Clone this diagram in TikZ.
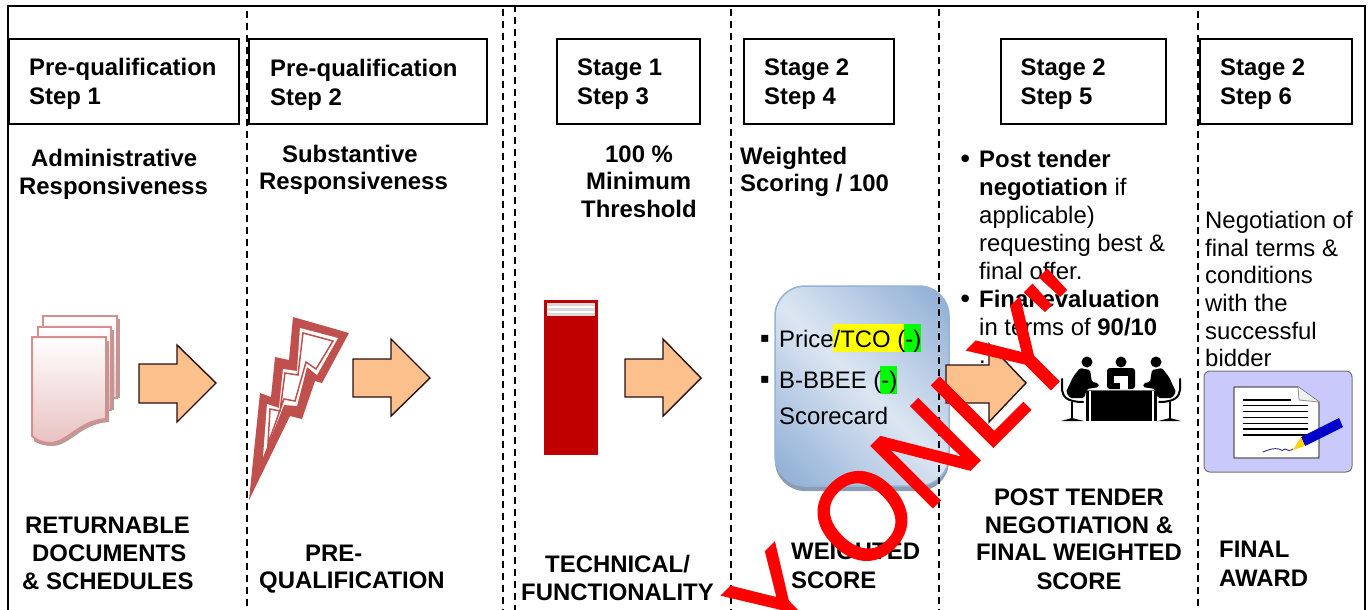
\documentclass[tikz,border=0pt]{standalone}
\usepackage{fontspec}
\setmainfont{Liberation Sans}
\newfontfamily\symfont{DejaVu Sans}
\newfontfamily\wmfont[FakeBold=1.4,FakeStretch=0.94]{Liberation Sans}
\usetikzlibrary{calc}
\definecolor{arrowfill}{HTML}{FBC08C}
\definecolor{arrowline}{HTML}{2B1010}
\definecolor{boltred}{HTML}{C0504D}
\definecolor{pageline}{HTML}{D68F8F}
\definecolor{pageshadow}{HTML}{B89A9A}
\definecolor{bookred}{HTML}{C00000}
\definecolor{boxlight}{HTML}{DCE6F2}
\definecolor{boxdark}{HTML}{95B3D7}
\definecolor{boxshadow}{HTML}{8C9DB3}
\definecolor{signbg}{HTML}{C9C9FB}
\definecolor{hgreen}{HTML}{00FF00}
\definecolor{hyellow}{HTML}{FFFF00}
\tikzset{
  x=1pt,y=-1pt,
  txt/.style={anchor=base west,inner sep=0pt,font=\fontsize{23.9}{28}\selectfont},
  btxt/.style={txt,font=\fontsize{23.9}{28}\selectfont\bfseries},
  ctr/.style={btxt,anchor=base},
  stagebox/.style={draw=black,line width=1.6pt,fill=white,inner sep=0pt,anchor=north west},
  divider/.style={draw=black,line width=1.5pt,dash pattern=on 7pt off 5pt},
  blockarrow/.style={draw=arrowline,fill=arrowfill,line width=1.4pt,line join=miter},
  sheet/.style={draw=pageline,line width=2pt,top color=white,bottom color=pageline!55},
  sheetshadow/.style={fill=pageshadow},
  bulletmark/.style={anchor=base west,inner sep=0pt,font=\fontsize{14}{14}\selectfont\symfont},
  roundbullet/.style={anchor=base west,inner sep=0pt,font=\fontsize{26}{28}\selectfont\symfont},
  wmark/.style={anchor=base west,inner sep=0pt,rotate=45,text=red,font=\fontsize{126}{126}\selectfont\wmfont},
}
\begin{document}
\begin{tikzpicture}
\useasboundingbox (0,0) rectangle (1370,610);
\clip (0,0) rectangle (1370,610);
\fill[white] (0,0) rectangle (1370,610);
% frame
\draw[black,line width=1.8pt] (8,620) -- (8,6) -- (1365,6) -- (1365,620);
% rounded box (under dashed divider)
\fill[boxshadow,rounded corners=30pt] (775,292) rectangle (949,491);
\begin{scope}
\clip[rounded corners=30pt] (775,286) rectangle (949,486);
\fill[boxdark] (775,286) rectangle (949,486);
\begin{scope}[transform canvas={rotate around={-45:(862,386)}}]
\shade[bottom color=boxdark,top color=boxdark,middle color=boxlight] (722,271) rectangle (1002,501);
\end{scope}
\end{scope}
\draw[boxdark,line width=1.5pt,rounded corners=30pt] (775,286) rectangle (949,486);
% dividers
\foreach \x/\t in {247/11,503/9,515/5,731/9,939/9,1198/11}{\draw[divider] (\x,\t) -- (\x,612);}
% header boxes
\node[stagebox,minimum width=230pt,minimum height=85pt] (b1) at (8,38) {};
\node[stagebox,minimum width=238pt,minimum height=85pt] (b2) at (248,38) {};
\node[stagebox,minimum width=143pt,minimum height=85pt] (b3) at (556,38) {};
\node[stagebox,minimum width=150pt,minimum height=85pt] (b4) at (743,38) {};
\node[stagebox,minimum width=165pt,minimum height=85pt] (b5) at (1000,38) {};
\node[stagebox,minimum width=152pt,minimum height=85pt] (b6) at (1199,38) {};
% header text
\node[btxt] (h1a) at (29,75) {Pre-qualification};
\node[btxt] (h1b) at (29,104) {Step 1};
\node[btxt] (h2a) at (270,76) {Pre-qualification};
\node[btxt] (h2b) at (270,105) {Step 2};
\node[btxt] (h3a) at (577,75) {Stage 1};
\node[btxt] (h3b) at (577,104) {Step 3};
\node[btxt] (h4a) at (764,75) {Stage 2};
\node[btxt] (h4b) at (764,104) {Step 4};
\node[btxt] (h5a) at (1020.5,75) {Stage 2};
\node[btxt] (h5b) at (1020.5,104) {Step 5};
\node[btxt] (h6a) at (1220,75) {Stage 2};
\node[btxt] (h6b) at (1220,104) {Step 6};
% sub headings
\node[btxt] (s1a) at (31,166) {Administrative};
\node[btxt] (s1b) at (19,194) {Responsiveness};
\node[btxt] (s2a) at (282,162) {Substantive};
\node[btxt] (s2b) at (259,189) {Responsiveness};
\node[btxt] (s3a) at (605,162) {100 \%};
\node[btxt] (s3b) at (586,189) {Minimum};
\node[btxt] (s3c) at (581,217) {Threshold};
\node[btxt] (s4a) at (740,164) {Weighted};
\node[btxt] (s4b) at (740,191) {Scoring / 100};
% step 5 list
\node[roundbullet] (l0) at (957.5,168) {•};
\node[btxt] (l1) at (979,167) {Post tender};
\node[txt] (l2) at (979,195) {\textbf{negotiation} if};
\node[txt] (l3) at (979,223) {applicable)};
\node[txt] (l4) at (979,251) {requesting best \&};
\node[txt] (l5) at (979,279) {final offer.};
\node[roundbullet] (l6) at (957.5,308) {•};
\node[btxt] (l7) at (979,307) {Final evaluation};
\node[txt] (l8) at (979,335) {in terms of \textbf{90/10}};
\node[txt] (l9) at (979,363) {.};
% step 6 text
\node[txt] (n1) at (1205,228) {Negotiation of};
\node[txt] (n2) at (1205,256) {final terms \&};
\node[txt] (n3) at (1205,283) {conditions};
\node[txt] (n4) at (1205,311) {with the};
\node[txt] (n5) at (1205,339) {successful};
\node[txt] (n6) at (1205,366) {bidder};
% bottom labels
\node[btxt] (r1) at (25,533) {RETURNABLE};
\node[btxt] (r2) at (32,561) {DOCUMENTS};
\node[btxt] (r3) at (22,589) {\& SCHEDULES};
\node[btxt] (p1) at (305,561) {PRE-};
\node[btxt] (p2) at (259,588) {QUALIFICATION};
\node[btxt] (t1) at (545,572) {TECHNICAL/};
\node[btxt] (t2) at (521,600) {FUNCTIONALITY};
\node[btxt] (w1) at (791,559) {WEIGHTED};
\node[btxt] (w2) at (791,588) {SCORE};
\node[ctr] (f1) at (1079,505) {POST TENDER};
\node[ctr] (f2) at (1079,533) {NEGOTIATION \&};
\node[ctr] (f3) at (1079,560) {FINAL WEIGHTED};
\node[ctr] (f4) at (1079,589) {SCORE};
\node[btxt] (a1) at (1219,557) {FINAL};
\node[btxt] (a2) at (1219,586) {AWARD};
% highlights and scorecard text
\fill[hyellow] (833,324) rectangle (904,352);
\fill[hgreen] (904,324) rectangle (921,352);
\fill[hgreen] (880,366) rectangle (897,394);
\node[bulletmark] (c0) at (760,342) {▪};
\node[txt] (c1) at (779,347) {Price/TCO (-)};
\node[bulletmark] (c2) at (760,383) {▪};
\node[txt] (c3) at (779,388) {B-BBEE (-)};
\node[txt] (c4) at (779,424) {Scorecard};
% arrows
\draw[blockarrow] (139,364) -- (177,364) -- (177,345) -- (216,383) -- (177,422) -- (177,403) -- (139,403) -- cycle;
\draw[blockarrow] (353,359) -- (391,359) -- (391,339) -- (430,378) -- (391,416) -- (391,397) -- (353,397) -- cycle;
\draw[blockarrow] (625,359) -- (663,359) -- (663,339) -- (701,378) -- (663,416) -- (663,397) -- (625,397) -- cycle;
\draw[blockarrow] (946,365) -- (989,365) -- (989,344) -- (1026,383) -- (989,422) -- (989,403) -- (946,403) -- cycle;
% stacked sheets
\fill[sheetshadow] (46,319) rectangle (120,398);
\draw[sheet] (43,316) rectangle (117,398);
\fill[sheetshadow] (41,330) rectangle (114,410);
\draw[sheet] (38,327) rectangle (111,410);
\fill[sheetshadow] (34,341) -- (109,341) -- (109,422) .. controls (80,424) and (70,446) .. (52,446) .. controls (44,446) and (38,444) .. (34,441) -- cycle;
\draw[sheet] (32,337) -- (106,337) -- (106,419) .. controls (78,421) and (68,443) .. (50,443) .. controls (42,443) and (36,440) .. (32,436) -- cycle;
% lightning bolt
\fill[boltred] (293,317) -- (349,333) -- (322,383) -- (315,381) -- (302,419) -- (290,416) -- (249,500) -- (260,393) -- (271,397) -- (275,357) -- (289,360) -- cycle;
\fill[white] (300,328) -- (338,338) -- (317,375) -- (307,367) -- (297,406) -- (284,405) -- (263,457) -- (267,404) -- (279,408) -- (283,369) -- (297,371) -- cycle;
\draw[boltred,line width=1.5pt,fill=white] (303,333) -- (333,341) -- (316,369) -- (306,362) -- (295,401) -- (284,399) -- (268,444) -- (270,409) -- (280,411) -- (285,373) -- (298,375) -- cycle;
% book
\fill[bookred] (544,300) rectangle (598,455);
\fill[white!85!black] (547,303) rectangle (595,316);
\fill[white] (547,306) rectangle (595,308);
\fill[white] (547,311) rectangle (595,313);
% meeting icon
\fill[black] (1086,391) rectangle (1157,421);
\fill[white] (1089,391) rectangle (1091,421);
\fill[white] (1152,391) rectangle (1154,421);
\fill[black!60] (1083,389.5) rectangle (1160,391);
\foreach \x in {1087,1121,1156}{\fill[black] (\x,362) circle (5.5pt);}
\fill[black,rounded corners=3pt] (1107,389) -- (1107,368) -- (1135,368) -- (1135,389) -- cycle;
\fill[white] (1114,376) rectangle (1128,389);
\fill[black] (1114,383) -- (1120,383) -- (1120,389) -- (1114,389) -- cycle;
\foreach \m/\s in {0/1,2242/-1}{
\begin{scope}[shift={(\m,0)},x=\s pt]
\fill[black,rounded corners=1.5pt] (1080,368) -- (1090,370) -- (1092,382) -- (1098,383) -- (1099,387) -- (1087,389) -- (1084,398) -- (1070,398) -- (1066,392) -- (1073,377) -- cycle;
\draw[black,line width=2pt,line cap=round] (1062,379) -- (1062,390) .. controls (1063,396) and (1066,402) .. (1083,402);
\draw[black,line width=1.4pt] (1072,402) -- (1072,419);
\fill[black] (1061,421) -- (1072,418) -- (1084,421) -- cycle;
\end{scope}}
% signature icon
\draw[draw=black!55,fill=signbg,line width=1pt,rounded corners=6pt] (1204,371) rectangle (1352,472);
\draw[draw=black!65,fill=white,line width=1.2pt,line join=round] (1234,387) -- (1298,387) -- (1319,402) -- (1319,458) -- (1234,458) -- cycle;
\draw[draw=black!45,fill=black!6,line width=.8pt] (1298,387) -- (1299,400) -- (1319,402);
\draw[black,line width=1.2pt] (1243,400) -- (1291,400);
\foreach \y in {405.7,411.7,417.3,423.3,429,435}{\draw[black,line width=1.2pt] (1243,\y) -- (1308,\y);}
\draw[blue!40!black!80,line width=.9pt,line cap=round] (1263,452) .. controls (1270,449) and (1274,448) .. (1279,449) .. controls (1281,451) and (1283,451) .. (1285,449) .. controls (1287,451) and (1290,451) .. (1293,449);
\fill[blue!80!black] (1301,437) -- (1339,418) -- (1343,427) -- (1305,446) -- cycle;
\fill[yellow!70!orange] (1301,437) -- (1305,446) -- (1293,450) -- cycle;
% watermark
\node[wmark] (wm) at (725.7,714.3) {PY ONLY"};
\end{tikzpicture}
\end{document}
